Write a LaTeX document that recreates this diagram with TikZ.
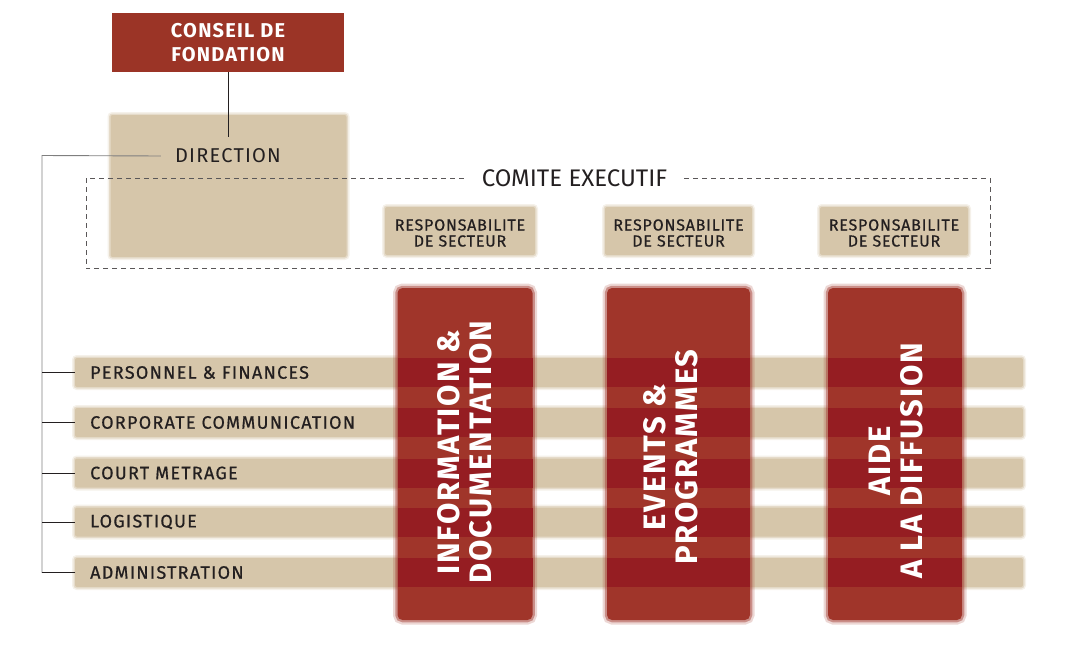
\documentclass[tikz,border=0pt]{standalone}
\usepackage{fontspec}
\setmainfont{Fira Sans}
\newfontfamily\dinfont[LetterSpace=6]{Fira Sans}
\newfontfamily\dinmedium[LetterSpace=7,FakeBold=0.6]{Fira Sans}
\newfontfamily\dinsmall[LetterSpace=5,FakeBold=0.6]{Fira Sans}
\newfontfamily\dinplain{Fira Sans}
\usepackage{xcolor}
\usetikzlibrary{positioning}
\definecolor{conseilred}{HTML}{9B3426}
\definecolor{collight}{HTML}{A0352A}
\definecolor{coldark}{HTML}{951D22}
\definecolor{beige}{HTML}{D6C6AA}
\definecolor{ink}{HTML}{231F20}
\definecolor{trunkgray}{HTML}{7F7F7F}
\tikzset{
    redbox/.style={
        fill=conseilred,
        text=white,
        align=center,
        font=\dinfont\bfseries\fontsize{20}{23.5}\selectfont
    },
    beigebox/.style={
        fill=beige,
        outer sep=0pt,
        rounded corners=2pt,
        preaction={draw=beige, draw opacity=0.25, line width=6pt},
        preaction={draw=beige, draw opacity=0.5, line width=3pt}
    },
    colbox/.style={
        fill=collight,
        outer sep=0pt,
        rounded corners=5pt,
        preaction={draw=collight, draw opacity=0.2, line width=9pt},
        preaction={draw=collight, draw opacity=0.45, line width=4.5pt}
    },
    coltext/.style={
        rotate=90,
        text=white,
        align=center,
        font=\dinfont\bfseries\fontsize{31}{32}\selectfont
    },
    toplabel/.style={
        text=ink,
        inner xsep=14pt,
        inner ysep=12pt,
        font=\dinfont\fontsize{20}{24}\selectfont
    },
    comitelabel/.style={
        text=ink,
        inner xsep=17pt,
        font=\dinplain\fontsize{24}{28}\selectfont
    },
    resplabel/.style={
        text=ink,
        align=center,
        inner sep=0pt,
        font=\dinsmall\fontsize{16}{16}\selectfont
    },
    barlabel/.style={
        text=ink,
        inner sep=0pt,
        font=\dinmedium\fontsize{18}{20}\selectfont
    },
    tieline/.style={
        draw=ink,
        line width=0.8pt
    },
    grayline/.style={
        draw=trunkgray,
        line width=0.9pt
    },
    dashbox/.style={
        draw=ink!75,
        line width=0.8pt,
        dash pattern=on 5pt off 4pt
    }
}
\begin{document}
\begin{tikzpicture}[x=1pt,y=-1pt]
    \useasboundingbox (0,0) rectangle (1081,648);

    % beige blocks behind the committee
    \node[beigebox, minimum width=236pt, minimum height=142pt] (dirbox) at (228.5,186) {};
    \foreach \n/\x/\w in {1/460/150, 2/678.5/147, 3/894/148}
    {
        \node[beigebox, minimum width=\w pt, minimum height=48pt] (respbox\n) at (\x,231) {};
        \node[resplabel] (resp\n) at ([yshift=-2pt]respbox\n) {RESPONSABILITE\\DE SECTEUR};
    }

    % horizontal bars
    \foreach \i/\y in {1/372.5, 2/422.5, 3/473, 4/522, 5/572.5}
    {
        \node[beigebox, minimum width=948pt, minimum height=29pt] (bar\i) at (549,\y) {};
    }
    \foreach \i/\t in {1/PERSONNEL \& FINANCES, 2/CORPORATE COMMUNICATION, 3/COURT METRAGE, 4/LOGISTIQUE, 5/ADMINISTRATION}
    {
        \node[barlabel, right=15pt of bar\i.west] (lbl\i) {\t};
    }

    % vertical columns
    \foreach \c/\x/\w in {info/465/135, events/678.5/143, aide/895/134}
    {
        \node[colbox, minimum width=\w pt, minimum height=332pt] (\c) at (\x,454) {};
        \foreach \i in {1,...,5}
            \fill[coldark] (\c.west |- bar\i.north) rectangle (\c.east |- bar\i.south);
    }
    \node[coltext] (infotext) at (465,452) {INFORMATION \&\\DOCUMENTATION};
    \node[coltext] (eventstext) at (670.5,457) {EVENTS \&\\PROGRAMMES};
    \node[coltext] (aidetext) at (896,461) {AIDE\\A LA DIFFUSION};

    % top of the chart
    \node[redbox, minimum width=232pt, minimum height=59pt] (conseil) at (228,42.5) {CONSEIL DE\\FONDATION};
    \node[toplabel] (direction) at (228,156) {DIRECTION};
    \draw[tieline] (conseil) -- (direction);

    % committee frame
    \node[comitelabel] (comite) at (574.5,178) {COMITE EXECUTIF};
    \draw[dashbox] (comite.east) -- (990,178) |- (86,268.5) |- (comite.west);

    % tree on the left
    \coordinate (trunk) at (42,155.5);
    \draw[grayline] (direction.west) -- (trunk) |- (bar5.west);
    \foreach \i in {1,...,5}
        \draw[tieline] (trunk |- bar\i.west) -- (bar\i.west);
\end{tikzpicture}
\end{document}
